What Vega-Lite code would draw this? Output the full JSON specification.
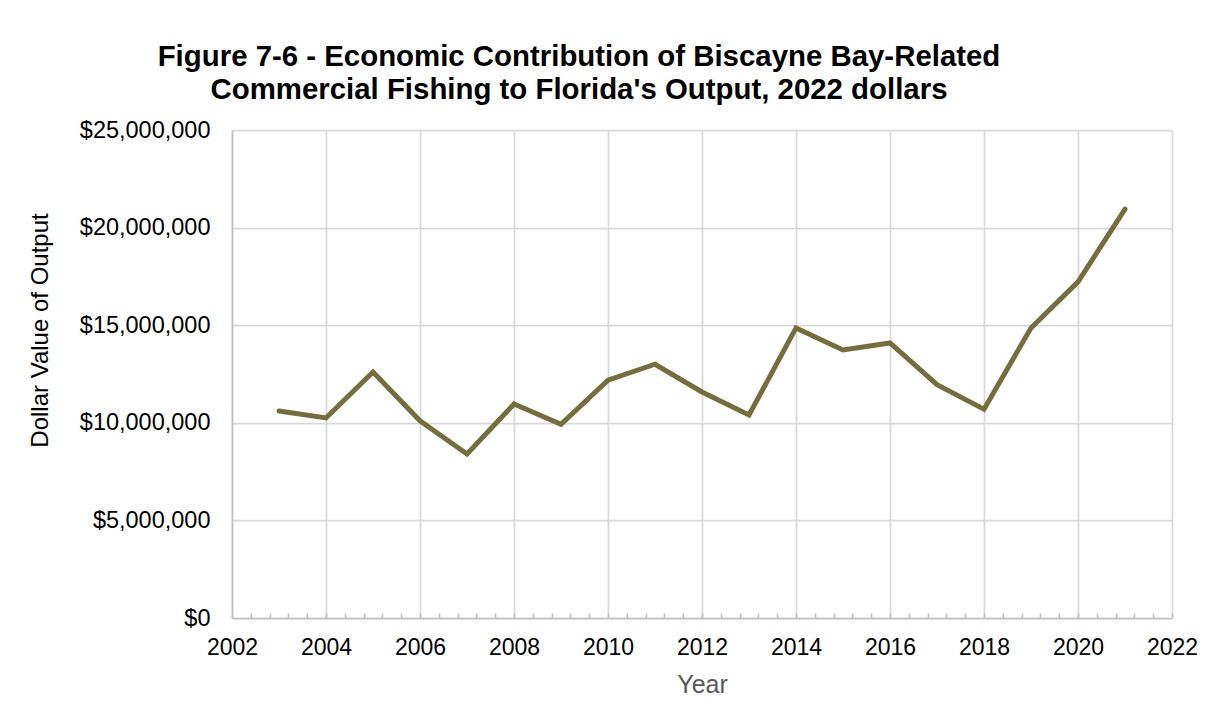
{
  "$schema": "https://vega.github.io/schema/vega-lite/v6.json",
  "width": 940,
  "height": 488,
  "autosize": {"type": "none"},
  "padding": {"left": 232, "top": 130, "right": 51, "bottom": 110},
  "background": "white",
  "title": {
    "text": ["Figure 7-6 - Economic Contribution of Biscayne Bay-Related", "Commercial Fishing to Florida's Output, 2022 dollars"],
    "font": "Liberation Sans",
    "fontSize": 29.4,
    "fontWeight": "bold",
    "color": "#000000",
    "anchor": "middle",
    "dx": -123,
    "offset": 13,
    "lineHeight": 33
  },
  "config": {
    "view": {"stroke": null},
    "font": "Liberation Sans"
  },
  "data": {
    "values": [
      {"year": 2003, "value": 10600000},
      {"year": 2004, "value": 10250000},
      {"year": 2005, "value": 12600000},
      {"year": 2006, "value": 10100000},
      {"year": 2007, "value": 8400000},
      {"year": 2008, "value": 10960000},
      {"year": 2009, "value": 9920000},
      {"year": 2010, "value": 12180000},
      {"year": 2011, "value": 13000000},
      {"year": 2012, "value": 11580000},
      {"year": 2013, "value": 10400000},
      {"year": 2014, "value": 14860000},
      {"year": 2015, "value": 13730000},
      {"year": 2016, "value": 14090000},
      {"year": 2017, "value": 11950000},
      {"year": 2018, "value": 10700000},
      {"year": 2019, "value": 14860000},
      {"year": 2020, "value": 17220000},
      {"year": 2021, "value": 20950000}
    ]
  },
  "mark": {"type": "line", "color": "#766D3F", "strokeWidth": 5, "strokeCap": "round", "strokeJoin": "miter", "clip": false},
  "encoding": {
    "x": {
      "field": "year",
      "type": "quantitative",
      "scale": {"domain": [2002, 2022], "nice": false, "zero": false},
      "axis": {
        "title": "Year",
        "titleColor": "#595959",
        "titleFont": "Liberation Sans",
        "titleFontSize": 25,
        "titleFontWeight": "normal",
        "titlePadding": 13,
        "tickCount": 100,
        "tickMinStep": 0.1,
        "values": [2002, 2002.4, 2002.8, 2003.2, 2003.6, 2004, 2004.4, 2004.8, 2005.2, 2005.6, 2006, 2006.4, 2006.8, 2007.2, 2007.6, 2008, 2008.4, 2008.8, 2009.2, 2009.6, 2010, 2010.4, 2010.8, 2011.2, 2011.6, 2012, 2012.4, 2012.8, 2013.2, 2013.6, 2014, 2014.4, 2014.8, 2015.2, 2015.6, 2016, 2016.4, 2016.8, 2017.2, 2017.6, 2018, 2018.4, 2018.8, 2019.2, 2019.6, 2020, 2020.4, 2020.8, 2021.2, 2021.6, 2022],
        "format": "d",
        "labelExpr": "abs(datum.value % 2) < 0.001 ? datum.label : ''",
        "labelFont": "Liberation Sans",
        "labelFontSize": 23,
        "labelColor": "#000000",
        "labelPadding": 23,
        "labelFlush": false,
        "labelOverlap": false,
        "tickSize": -5,
        "tickColor": "#bfbfbf",
        "tickWidth": 1.5,
        "domainColor": "#bfbfbf",
        "domainWidth": 1.5,
        "grid": true,
        "gridColor": "#d9d9d9",
        "gridWidth": 1.75,
        "gridOpacity": {"condition": {"test": "abs(datum.value % 2) < 0.001", "value": 1}, "value": 0}
      }
    },
    "y": {
      "field": "value",
      "type": "quantitative",
      "scale": {"domain": [0, 25000000], "nice": false},
      "axis": {
        "title": "Dollar Value of Output",
        "titleColor": "#000000",
        "titleFont": "Liberation Sans",
        "titleFontSize": 24,
        "titleFontWeight": "normal",
        "titleX": -180,
        "titleY": 200,
        "values": [0, 5000000, 10000000, 15000000, 20000000, 25000000],
        "format": "$,.0f",
        "labelFont": "Liberation Sans",
        "labelFontSize": 23.5,
        "labelColor": "#000000",
        "labelPadding": 22,
        "ticks": false,
        "domainColor": "#bfbfbf",
        "domainWidth": 1.5,
        "grid": true,
        "gridColor": "#d9d9d9",
        "gridWidth": 1.75
      }
    }
  }
}
